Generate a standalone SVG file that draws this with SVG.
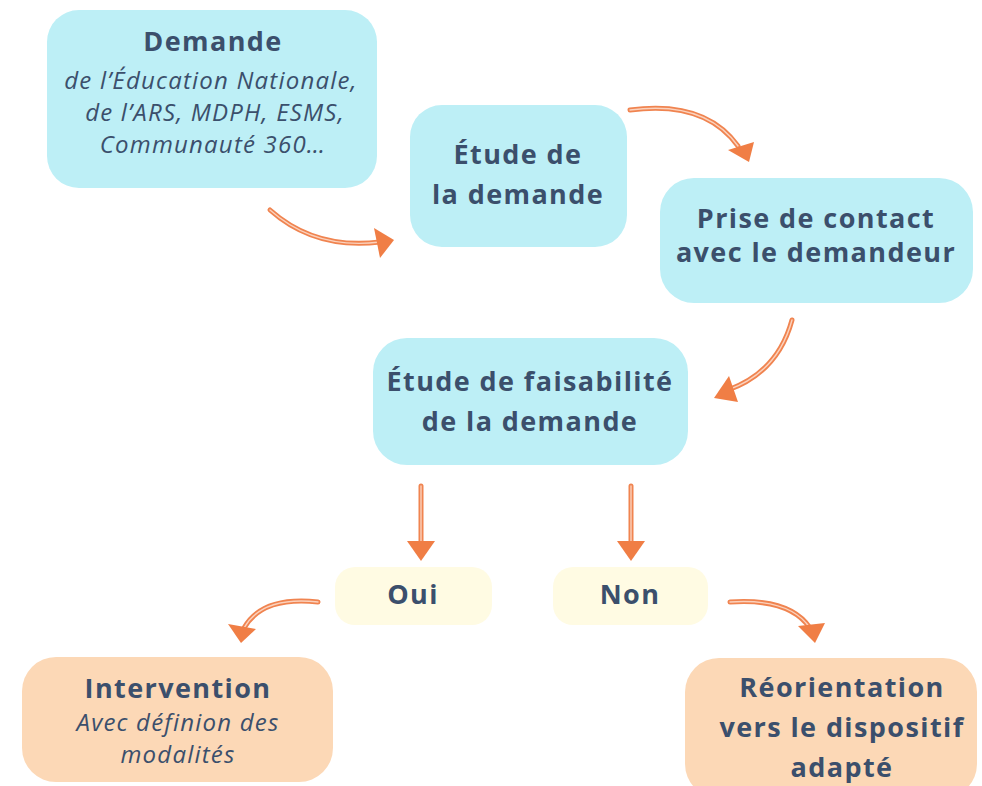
<svg xmlns="http://www.w3.org/2000/svg" width="982" height="786" viewBox="0 0 982 786">
<defs>
<style>
.blue{fill:#bdeff6}
.peach{fill:#fcd8b6}
.pale{fill:#fffbe3}
.t{font-family:"Open Sans","Noto Sans","Liberation Sans",sans-serif;fill:#3b4f6c;text-anchor:middle}
.b{font-weight:700;font-size:27px;letter-spacing:1.4px}
.i{font-style:italic;font-size:24px;letter-spacing:1.2px}
.arrow{fill:none;stroke:#f08450;stroke-width:5;stroke-linecap:round}
.inner{fill:none;stroke:#fbd2bd;stroke-width:1.4;stroke-linecap:round}
.head{fill:#f07e45}
</style>
</defs>
<rect width="982" height="786" fill="#ffffff"/>
<g id="demande">
<rect class="blue" x="47" y="10" width="330" height="178" rx="32"/>
<text class="t b" x="213" y="51">Demande</text>
<text class="t i" x="211" y="89">de l’Éducation Nationale,</text>
<text class="t i" x="215" y="121">de l’ARS, MDPH, ESMS,</text>
<text class="t i" x="213" y="153">Communauté 360…</text>
</g>
<g id="etude">
<rect class="blue" x="410" y="105" width="217" height="142" rx="32"/>
<text class="t b" x="518" y="164">Étude de</text>
<text class="t b" x="518" y="204">la demande</text>
</g>
<g id="contact">
<rect class="blue" x="660" y="178" width="313" height="125" rx="34"/>
<text class="t b" x="816" y="228">Prise de contact</text>
<text class="t b" x="816" y="262">avec le demandeur</text>
</g>
<g id="faisabilite">
<rect class="blue" x="373" y="338" width="315" height="127" rx="34"/>
<text class="t b" x="530" y="391">Étude de faisabilité</text>
<text class="t b" x="530" y="431">de la demande</text>
</g>
<g id="oui">
<rect class="pale" x="335" y="567" width="157" height="58" rx="20"/>
<text class="t b" x="413" y="604">Oui</text>
</g>
<g id="non">
<rect class="pale" x="553" y="567" width="155" height="58" rx="20"/>
<text class="t b" x="630" y="604">Non</text>
</g>
<g id="intervention">
<rect class="peach" x="22" y="657" width="311" height="125" rx="34"/>
<text class="t b" x="178" y="698">Intervention</text>
<text class="t i" x="178" y="731">Avec définion des</text>
<text class="t i" x="178" y="763">modalités</text>
</g>
<g id="reorientation">
<rect class="peach" x="685" y="658" width="292" height="140" rx="34"/>
<text class="t b" x="842" y="697">Réorientation</text>
<text class="t b" x="842" y="737">vers le dispositif</text>
<text class="t b" x="842" y="777">adapté</text>
</g>
<g id="connectors">
<path class="arrow" d="M270,210 Q315,250 380,242"/>
<path class="inner" d="M270,210 Q315,250 380,242"/>
<polygon class="head" points="394,240 374,228 380,258"/>
<path class="arrow" d="M630,110 Q705,100 738,146"/>
<path class="inner" d="M630,110 Q705,100 738,146"/>
<polygon class="head" points="749,162 728,150 754,142"/>
<path class="arrow" d="M792,320 Q778,372 728,390"/>
<path class="inner" d="M792,320 Q778,372 728,390"/>
<polygon class="head" points="714,398 729,376 738,402"/>
<line class="arrow" x1="421" y1="486" x2="421" y2="545"/>
<line class="inner" x1="421" y1="486" x2="421" y2="545"/>
<polygon class="head" points="407,541 435,541 421,561"/>
<line class="arrow" x1="631" y1="486" x2="631" y2="545"/>
<line class="inner" x1="631" y1="486" x2="631" y2="545"/>
<polygon class="head" points="617,541 645,541 631,561"/>
<path class="arrow" d="M318,602 Q262,596 244,628"/>
<path class="inner" d="M318,602 Q262,596 244,628"/>
<polygon class="head" points="241,643 228,624 256,629"/>
<path class="arrow" d="M730,602 Q790,598 810,628"/>
<path class="inner" d="M730,602 Q790,598 810,628"/>
<polygon class="head" points="815,643 798,626 825,623"/>
</g>
</svg>
